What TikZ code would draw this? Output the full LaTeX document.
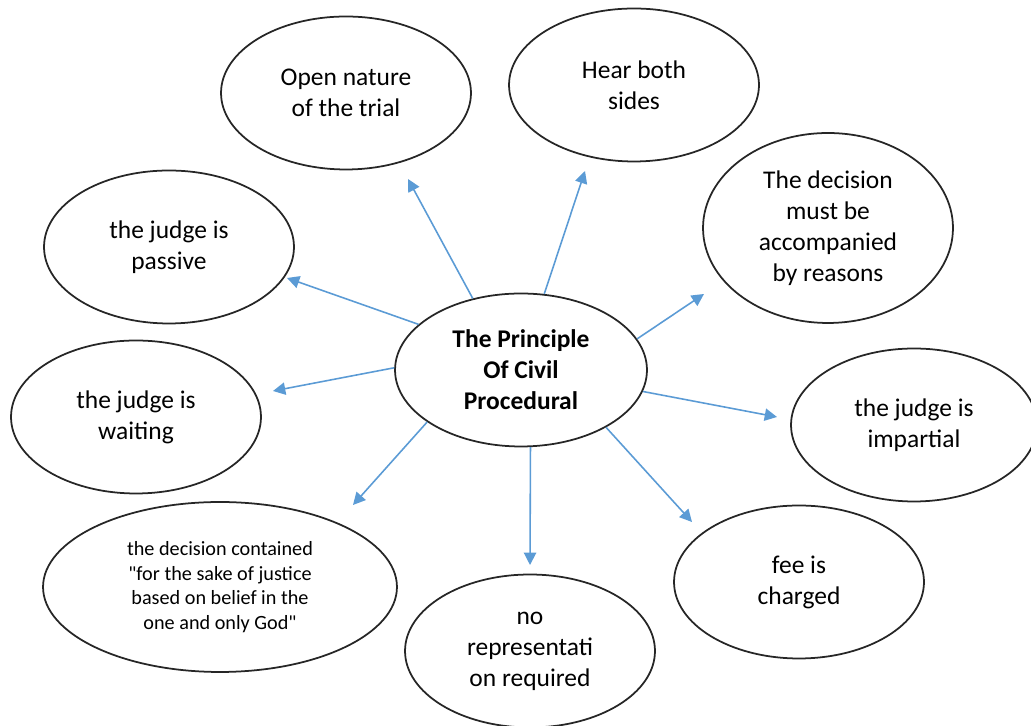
\documentclass[tikz,border=0pt]{standalone}
\usepackage{fontspec}
\setmainfont{Carlito}[Ligatures=TeXOff]
\usepackage{tikz}
\usetikzlibrary{shapes.geometric,arrows.meta}
\definecolor{linkblue}{RGB}{91,155,213}
\tikzset{bubble/.style = {ellipse,draw=black!85,line width=1pt,inner sep=0pt,align=center,minimum width=5cm,minimum height=3.06cm,font=\fontsize{14.5}{17.6}\selectfont}}
\tikzset{link/.style = {linkblue,line width=0.9pt,-{Triangle[length=7pt,width=7pt]}}}

\begin{document}
\begin{tikzpicture}[x=0.02cm,y=0.02cm]
                \useasboundingbox (0,0) rectangle (1031,726);
                \node[bubble,minimum width=5.04cm,font=\fontsize{14.5}{17.6}\selectfont\bfseries] (c) at (521,356) {The Principle\\Of Civil\\Procedural};
                \node[bubble] (1) at (346,633) {Open nature\\of the trial};
                \node[bubble] (2) at (634,641) {Hear both\\sides};
                \node[bubble,minimum height=3.8cm] (3) at (828,498) {The decision\\must be\\accompanied\\by reasons};
                \node[bubble,minimum width=4.92cm] (4) at (914,301) {the judge is\\impartial};
                \node[bubble] (5) at (799,144) {fee is\\charged};
                \node[bubble] (6) at (530,75) {no\\representati\\on required};
                \node[bubble,minimum width=7.08cm,minimum height=3.4cm,font=\fontsize{11.5}{14}\selectfont] (7) at (220,139) {the decision contained\\"for the sake of justice\\based on belief in the\\one and only God"};
                \node[bubble] (8) at (136,309) {the judge is\\waiting};
                \node[bubble] (9) at (169,479) {the judge is\\passive};
                % arrow tips stop short of the bubbles
                \coordinate (t1) at (408,547);
                \coordinate (t2) at (585,555);
                \coordinate (t3) at (704,432);
                \coordinate (t4) at (777,309);
                \coordinate (t5) at (692,204);
                \coordinate (t6) at (530,161);
                \coordinate (t7) at (353,221);
                \coordinate (t8) at (273,335);
                \coordinate (t9) at (287,448);
                \draw[link] (c.124) -- (t1);
                \draw[link] (c.73) -- (t2);
                \draw[link] (c.15) -- (t3);
                \draw[link] (c.-10) -- (t4);
                \draw[link] (c.-34) -- (t5);
                \draw[link] (c.-83) -- (t6);
                \draw[link] (c.-151) -- (t7);
                \draw[link] (c.179) -- (t8);
                \draw[link] (c.156) -- (t9);
            \end{tikzpicture}
\end{document}
